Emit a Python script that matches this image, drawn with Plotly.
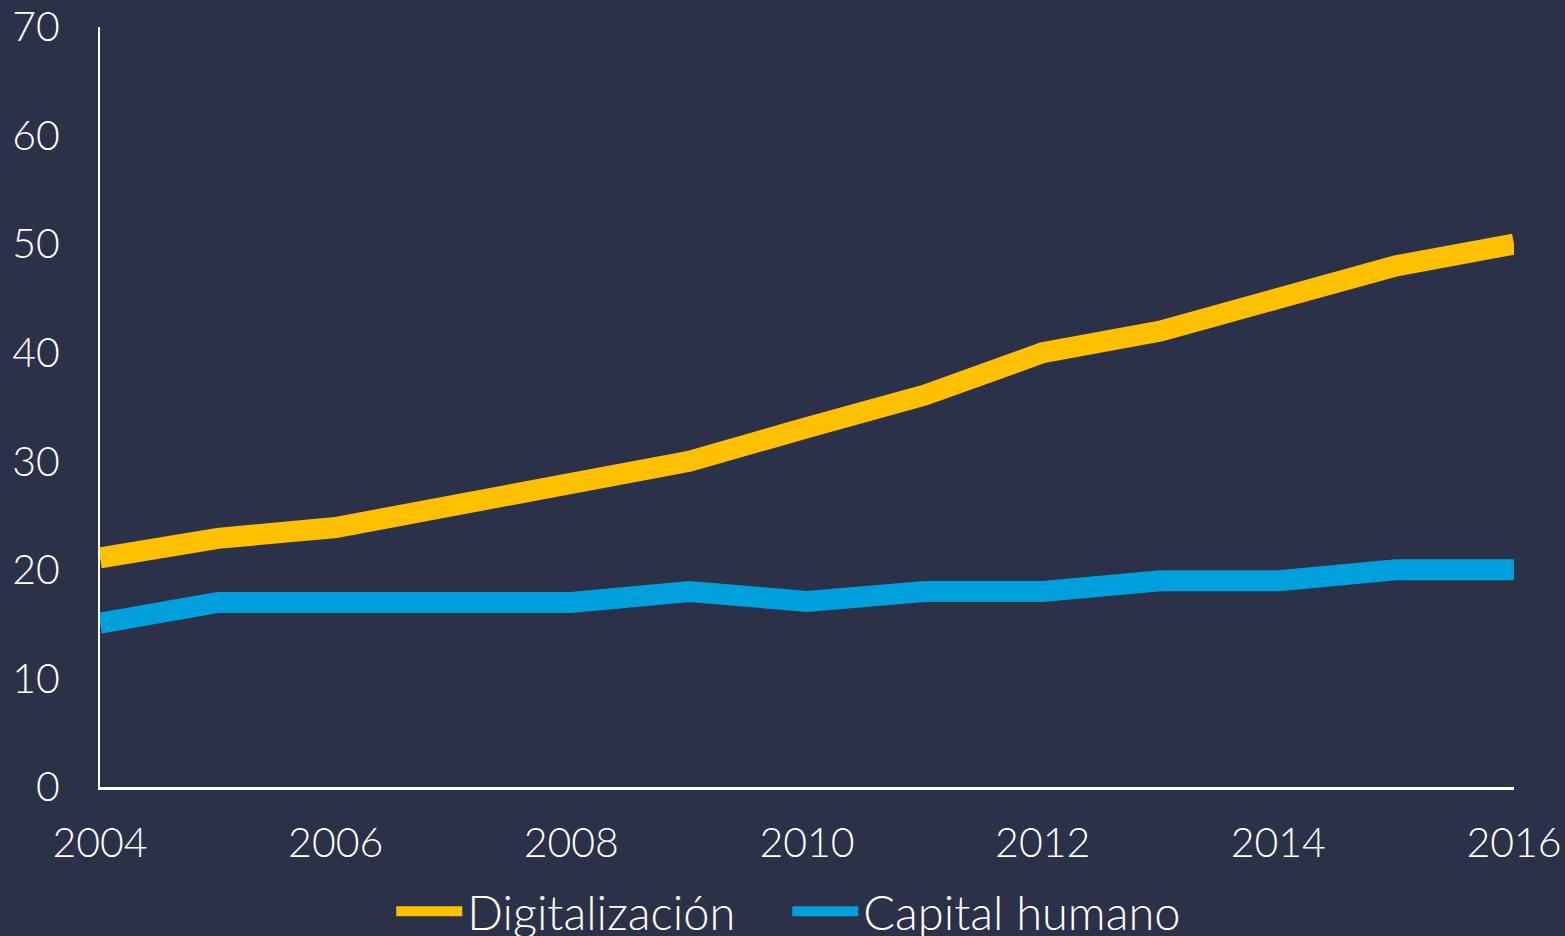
import plotly.graph_objects as go

# Data
years = list(range(2004, 2017))
digitalizacion = [21.1, 22.9, 23.9, 26.0, 28.0, 30.0, 33.1, 36.1, 40.0, 42.0, 45.0, 48.0, 50.0]
capital_humano = [15.1, 17.0, 17.0, 17.0, 17.0, 18.0, 17.1, 18.0, 18.0, 19.0, 19.0, 20.0, 20.0]
series_names = ["Digitalización", "Capital humano"]
x_ticks = [2004, 2006, 2008, 2010, 2012, 2014, 2016]
y_ticks = [0, 10, 20, 30, 40, 50, 60, 70]

bg = "#2A3149"
font_family = "Lato"

fig = go.Figure()
fig.add_trace(go.Scatter(x=years, y=digitalizacion, mode="lines", name=series_names[0],
                         line=dict(color="#FFC000", width=21)))
fig.add_trace(go.Scatter(x=years, y=capital_humano, mode="lines", name=series_names[1],
                         line=dict(color="#00A0DC", width=21)))

fig.update_layout(
    width=1565, height=936,
    paper_bgcolor=bg, plot_bgcolor=bg,
    margin=dict(l=100, r=51, t=27, b=149),
    font=dict(family=font_family, color="white", size=41, weight=300),
    showlegend=True,
    legend=dict(orientation="h", xref="container", yref="container",
                x=0.25, xanchor="left", y=0.026, yanchor="middle",
                font=dict(size=47, color="white", weight=300), bgcolor="rgba(0,0,0,0)",
                itemwidth=66, entrywidth=315, tracegroupgap=0),
)
fig.update_xaxes(range=[2004, 2016], tickvals=x_ticks, showgrid=False, zeroline=False,
                 showline=True, linecolor="white", linewidth=3, ticks="", automargin=False,
                 ticklabelstandoff=18, tickfont=dict(size=41, color="white", weight=300))
fig.update_yaxes(range=[0, 70], tickvals=y_ticks, showgrid=False, zeroline=False,
                 showline=True, linecolor="white", linewidth=2, ticks="", automargin=False,
                 ticklabelstandoff=30, tickfont=dict(size=41, color="white", weight=300))

fig.write_html("out.html", config={"displayModeBar": False},
               post_script="document.body.style.margin='0';")
